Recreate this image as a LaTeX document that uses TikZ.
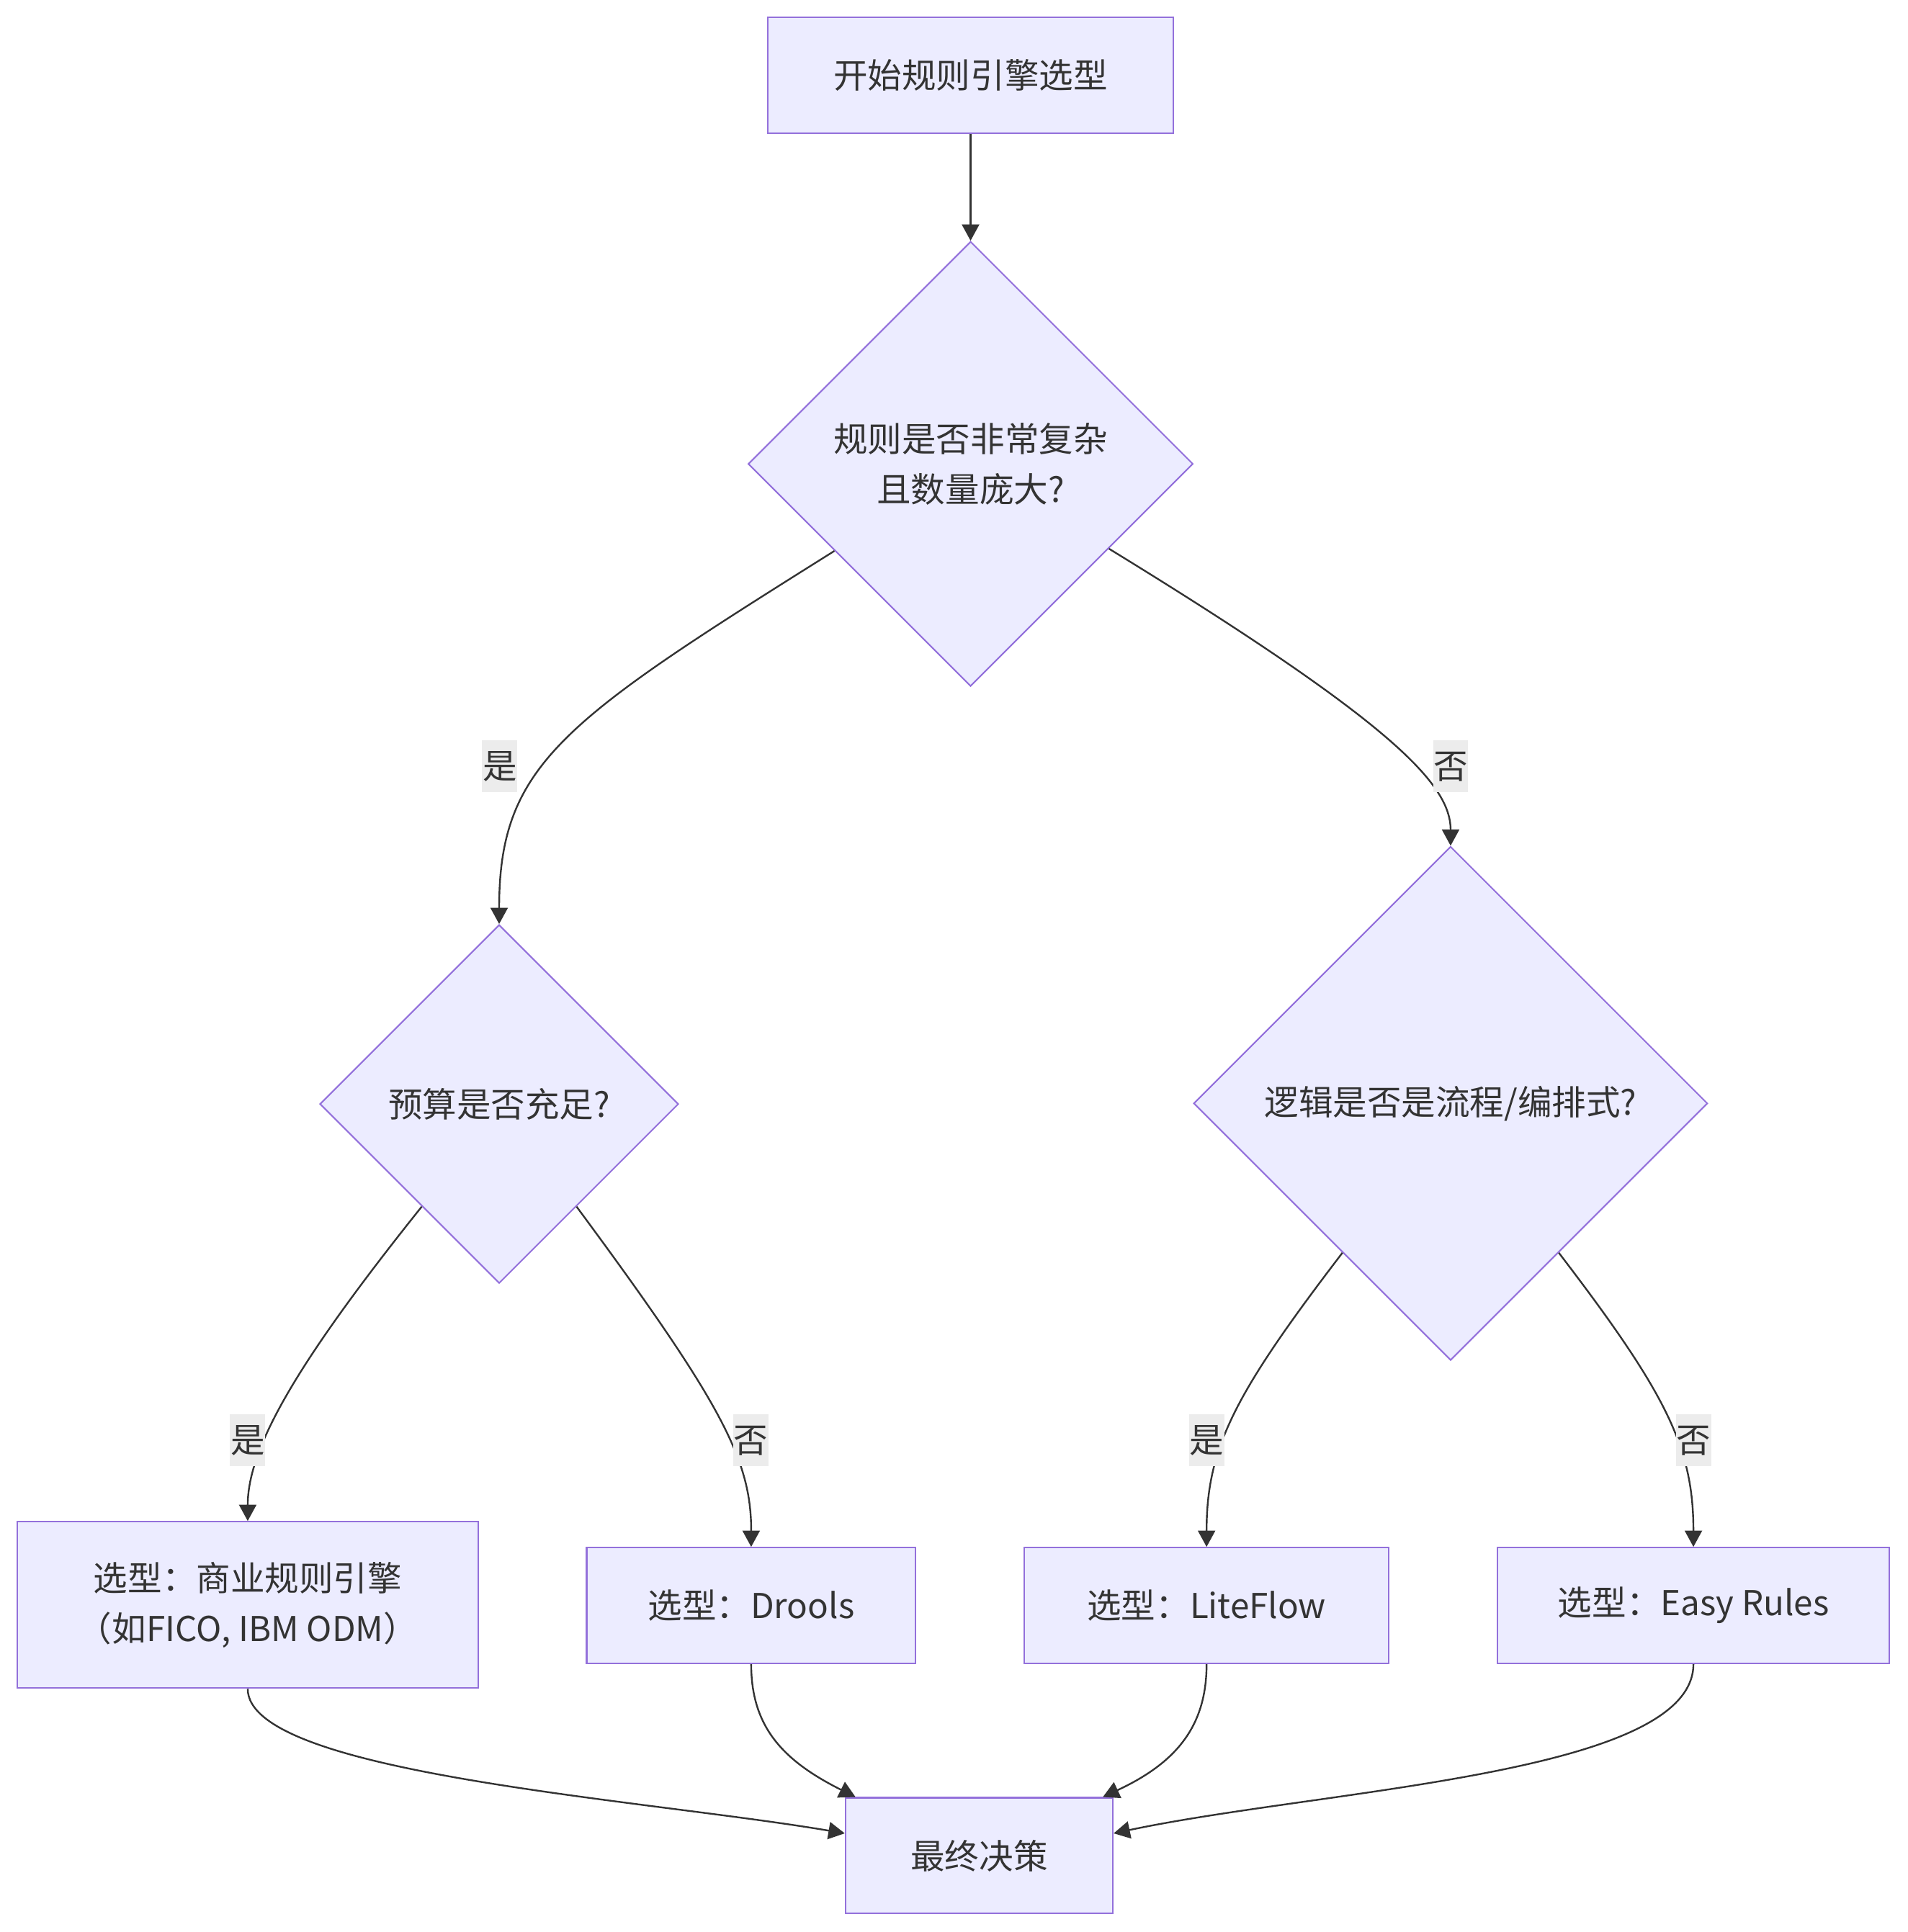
\documentclass[tikz,border=0pt]{standalone}
\usepackage{fontspec}
\setmainfont{Noto Sans CJK SC}
\usetikzlibrary{arrows.meta}
\usetikzlibrary{shapes.geometric}
\usetikzlibrary{calc}

\definecolor{boxfill}{HTML}{ECECFF}
\definecolor{boxline}{HTML}{9370DB}
\definecolor{ink}{HTML}{333333}
\definecolor{lblgray}{HTML}{ECECEC}

\begin{document}
\begin{tikzpicture}[x=0.5pt,y=-0.5pt,>={Triangle[length=6.6pt,width=7pt]},
    every node/.style={font=\fontsize{13.9pt}{20.5pt}\selectfont,text=ink},
    stepbox/.style={rectangle,draw=boxline,fill=boxfill,line width=0.6pt,minimum height=47pt,align=center},
    choice/.style={diamond,draw=boxline,fill=boxfill,line width=0.6pt,aspect=1,inner sep=0pt,align=center},
    flow/.style={draw=ink,line width=0.7pt,->},
    answer/.style={fill=lblgray,inner xsep=0.2pt,inner ysep=0pt,minimum height=21pt}]

      \useasboundingbox (0,0) rectangle (1548,1568);

      \node (start) [stepbox,minimum width=164.5pt] at (787.5,61) {开始规则引擎选型};
      \node (complex) [choice,minimum size=180.5pt] at (787.5,376.5) {规则是否非常复杂\\且数量庞大?};
      \node (budget) [choice,minimum size=145.5pt] at (405,896) {预算是否充足?};
      \node (logic) [choice,minimum size=208.5pt] at (1177,895.5) {逻辑是否是流程/编排式?};
      \node (vendor) [stepbox,minimum width=187pt,minimum height=67.5pt] at (201,1302.5) {选型：商业规则引擎\\（如FICO, IBM ODM）};
      \node (drools) [stepbox,minimum width=133.5pt] at (609.5,1303) {选型：Drools};
      \node (liteflow) [stepbox,minimum width=148pt] at (979,1303) {选型：LiteFlow};
      \node (easy) [stepbox,minimum width=159pt] at (1374,1303) {选型：Easy Rules};
      \node (final) [stepbox,minimum width=108.5pt] at (794.5,1506) {最终决策};

      \draw[flow] (start) -- (complex);
      \draw[flow] ($(complex.west)!.39!(complex.south)$) .. controls +(-220,138) and +(0,-130) .. (budget.north);
      \draw[flow] ($(complex.east)!.38!(complex.south)$) .. controls +(230,141) and +(0,-50) .. (logic.north);
      \draw[flow] ($(budget.west)!.57!(budget.south)$) .. controls +(-100,125) and +(0,-60) .. (vendor.north);
      \draw[flow] ($(budget.east)!.57!(budget.south)$) .. controls +(119,161) and +(0,-70) .. (drools.north);
      \draw[flow] ($(logic.west)!.58!(logic.south)$) .. controls +(-88,115) and +(0,-80) .. (liteflow.north);
      \draw[flow] ($(logic.east)!.58!(logic.south)$) .. controls +(88,115) and +(0,-80) .. (easy.north);
      \draw[flow] (vendor.south) .. controls +(0,69) and +(-165,-28) .. ($(final.north west)!.31!(final.south west)$);
      \draw[flow] (drools.south) .. controls +(0,50) and +(-60,-30) .. ($(final.north west)!.04!(final.north east)$);
      \draw[flow] (liteflow.south) .. controls +(0,50) and +(60,-28) .. ($(final.north east)!.04!(final.north west)$);
      \draw[flow] (easy.south) .. controls +(0,90) and +(170,-36) .. ($(final.north east)!.31!(final.south east)$);

      \node (yes1) [answer] at (405.5,622) {是};
      \node (no1) [answer] at (1177,622) {否};
      \node (yes2) [answer] at (201,1169) {是};
      \node (no2) [answer] at (609,1169) {否};
      \node (yes3) [answer] at (979,1169) {是};
      \node (no3) [answer] at (1374,1169) {否};
    \end{tikzpicture}
\end{document}
